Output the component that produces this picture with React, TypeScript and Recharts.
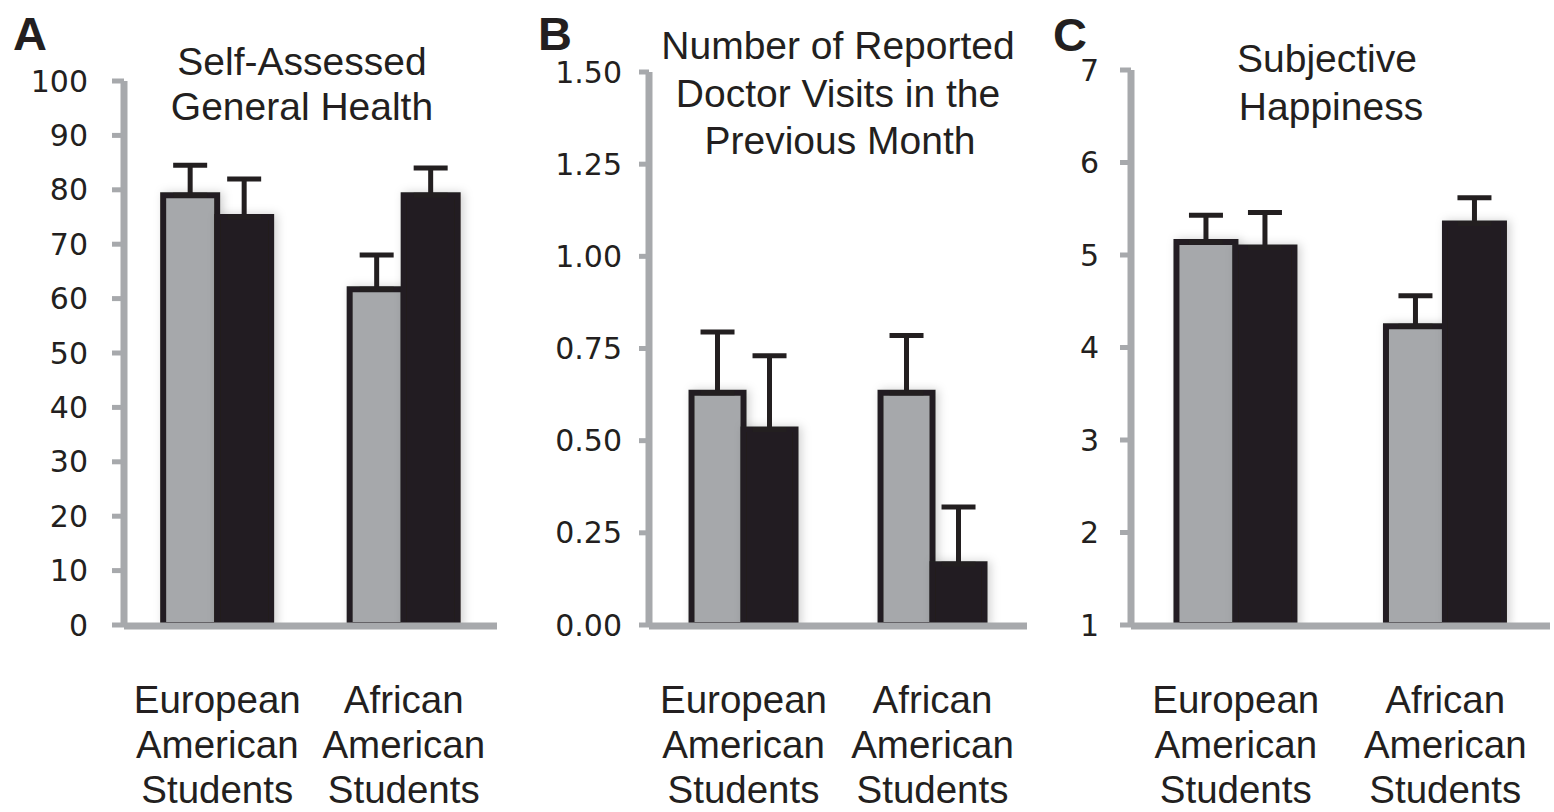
import { BarChart, Bar, XAxis, YAxis, ErrorBar, Rectangle } from "recharts";

const categories = ["European American Students", "African American Students"];

// gray bars (control) and black bars (treatment), with the upper error of each
const healthControl = [79, 61.7];
const healthControlErr = [5.5, 6.3];
const healthTreatment = [75, 79];
const healthTreatmentErr = [7, 5];

const visitsControl = [0.63, 0.63];
const visitsControlErr = [0.165, 0.155];
const visitsTreatment = [0.53, 0.165];
const visitsTreatmentErr = [0.2, 0.155];

const happyControl = [5.14, 4.23];
const happyControlErr = [0.29, 0.33];
const happyTreatment = [5.08, 5.34];
const happyTreatmentErr = [0.38, 0.28];

const healthTicks = [0, 10, 20, 30, 40, 50, 60, 70, 80, 90, 100];
const visitsTicks = [0, 0.25, 0.5, 0.75, 1, 1.25, 1.5];
const happyTicks = [1, 2, 3, 4, 5, 6, 7];
const edgeTicks = [0, 1, 2];

const GRAY = "#a6a8ab";
const BLACK = "#231f20";
const AXIS = "#a7a9ac";
const SANS = "'Liberation Sans', Arial, Helvetica, sans-serif";

function buildRows(ctl: number[], ctlErr: number[], trt: number[], trtErr: number[]) {
  return categories.map((name, i) => ({
    name,
    control: ctl[i],
    controlErr: [0, ctlErr[i]],
    treatment: trt[i],
    treatmentErr: [0, trtErr[i]],
  }));
}

const CategoryTick = (props: any) => {
  const { x, y, payload } = props;
  const words = String(payload.value).split(" ");
  return (
    <text x={x} y={y} textAnchor="middle" fill={BLACK} fontFamily={SANS} fontSize={38.5}>
      {words.map((w, i) => (
        <tspan key={i} x={x} dy={i === 0 ? 88 : 45}>
          {w}
        </tspan>
      ))}
    </text>
  );
};

const shadowShape = (id: string) => (p: any) => (
  <g filter={`url(#${id})`}>
    <Rectangle {...p} />
  </g>
);

interface PanelProps {
  id: string;
  rows: any[];
  left: number;
  width: number;
  top: number;
  right: number;
  yWidth: number;
  yDomain: [number, number];
  yTicks: number[];
  yTickSize: number;
  yTickMargin: number;
  gap: string;
  fmt?: (v: number) => string;
}

function Panel({ id, rows, left, width, top, right, yWidth, yDomain, yTicks, yTickSize, yTickMargin, gap, fmt }: PanelProps) {
  return (
    <div style={{ position: "absolute", left, top: 0 }}>
      <BarChart
        width={width}
        height={812}
        data={rows}
        margin={{ top, right, left: 0, bottom: 185 }}
        barCategoryGap={gap}
        barGap={0}
      >
        <defs>
          <filter id={id} x="-50%" y="-20%" width="200%" height="140%">
            <feDropShadow dx={3} dy={0} stdDeviation={5} floodColor="#000" floodOpacity={0.18} />
          </filter>
        </defs>
        <XAxis
          xAxisId="edge"
          type="number"
          domain={[0, 2]}
          ticks={edgeTicks}
          allowDataOverflow
          height={1}
          tick={false}
          tickSize={10}
          axisLine={{ stroke: AXIS, strokeWidth: 7 }}
          tickLine={{ stroke: AXIS, strokeWidth: 5 }}
        />
        <XAxis
          dataKey="name"
          height={1}
          axisLine={false}
          tickLine={false}
          tickSize={0}
          tickMargin={0}
          interval={0}
          tick={<CategoryTick />}
        />
        <YAxis
          width={yWidth}
          domain={yDomain}
          ticks={yTicks}
          allowDataOverflow
          interval={0}
          tickSize={yTickSize}
          tickMargin={yTickMargin}
          tickFormatter={fmt}
          axisLine={{ stroke: AXIS, strokeWidth: 7 }}
          tickLine={{ stroke: AXIS, strokeWidth: 5 }}
          tick={{ fill: BLACK, fontSize: 30, fontFamily: "'DejaVu Sans', sans-serif" }}
        />
        <Bar
          dataKey="control"
          fill={GRAY}
          stroke={BLACK}
          strokeWidth={6}
          isAnimationActive={false}
          shape={shadowShape(id)}
        >
          <ErrorBar dataKey="controlErr" direction="y" width={17} stroke={BLACK} strokeWidth={5} />
        </Bar>
        <Bar
          dataKey="treatment"
          fill={BLACK}
          stroke={BLACK}
          strokeWidth={6}
          isAnimationActive={false}
          shape={shadowShape(id)}
        >
          <ErrorBar dataKey="treatmentErr" direction="y" width={17} stroke={BLACK} strokeWidth={5} />
        </Bar>
      </BarChart>
    </div>
  );
}

export default function App() {
  const health = buildRows(healthControl, healthControlErr, healthTreatment, healthTreatmentErr);
  const visits = buildRows(visitsControl, visitsControlErr, visitsTreatment, visitsTreatmentErr);
  const happy = buildRows(happyControl, happyControlErr, happyTreatment, happyTreatmentErr);

  return (
    <div style={{ position: "absolute", left: 0, top: 0, width: 1554, height: 812, background: "#fff", overflow: "hidden" }}>
      <Panel
        id="shA"
        rows={health}
        left={0}
        width={520}
        top={81}
        right={23}
        yWidth={124}
        yDomain={[0, 100]}
        yTicks={healthTicks}
        yTickSize={12}
        yTickMargin={24}
        gap="21%"
      />
      <Panel
        id="shB"
        rows={visits}
        left={520}
        width={520}
        top={72}
        right={13}
        yWidth={129}
        yDomain={[0, 1.5]}
        yTicks={visitsTicks}
        yTickSize={10}
        yTickMargin={17}
        gap="22.5%"
        fmt={(v) => v.toFixed(2)}
      />
      <Panel
        id="shC"
        rows={happy}
        left={1040}
        width={514}
        top={70}
        right={4}
        yWidth={91}
        yDomain={[1, 7]}
        yTicks={happyTicks}
        yTickSize={11}
        yTickMargin={21}
        gap="21.7%"
      />
      <svg width={1554} height={812} style={{ position: "absolute", left: 0, top: 0, pointerEvents: "none" }}>
        <g fontFamily={SANS} fontWeight="bold" fontSize={47} fill={BLACK}>
          <text x={13} y={50}>A</text>
          <text x={538} y={50}>B</text>
          <text x={1053} y={51}>C</text>
        </g>
        <g fontFamily={SANS} fontSize={39} fill={BLACK} textAnchor="middle">
          <text x={302} y={75}>Self-Assessed</text>
          <text x={302} y={120}>General Health</text>
          <text x={838} y={59}>Number of Reported</text>
          <text x={838} y={107}>Doctor Visits in the</text>
          <text x={840} y={154}>Previous Month</text>
          <text x={1327} y={72}>Subjective</text>
          <text x={1331} y={120}>Happiness</text>
        </g>
      </svg>
    </div>
  );
}
